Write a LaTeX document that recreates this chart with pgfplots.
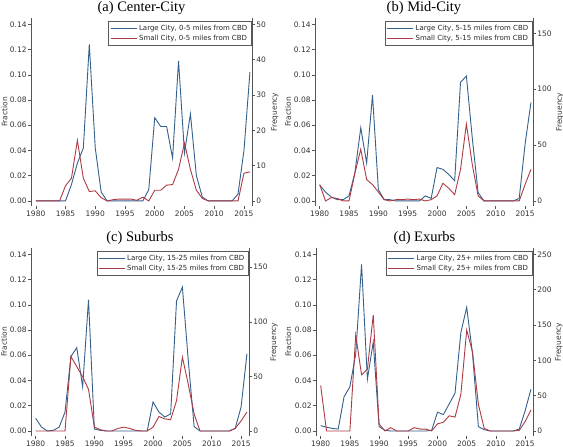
\documentclass[border=0pt]{standalone}
\usepackage{fontspec}
\setmainfont{Liberation Serif}
\newfontfamily\dejavu{DejaVu Sans}
\usepackage{pgfplots}
\usepackage{pgfplotstable}
\pgfplotsset{compat=1.18}
\definecolor{cblue}{RGB}{52,96,140}
\definecolor{cred}{RGB}{172,58,68}
\definecolor{spine}{RGB}{85,85,85}
\newcommand{\tfont}{\dejavu\fontsize{7.5}{9}\selectfont}
\newcommand{\lfont}{\dejavu\fontsize{7}{8.5}\selectfont}

\pgfplotstableread{
year L S
1980 0 0
1981 0 0
1982 0 0
1983 0 0
1984 0 0
1985 0 0.012
1986 0.013 0.018
1987 0.030 0.048
1988 0.042 0.018
1989 0.124 0.0075
1990 0.042 0.008
1991 0.007 0.0026
1992 0 0
1993 0 0.001
1994 0 0.0015
1995 0 0.0015
1996 0 0.0015
1997 0 0.0005
1998 0 0.003
1999 0.009 0
2000 0.066 0.0085
2001 0.059 0.0085
2002 0.059 0.0125
2003 0.034 0.013
2004 0.111 0.025
2005 0.038 0.046
2006 0.069 0.025
2007 0.020 0.0085
2008 0.003 0.002
2009 0 0
2010 0 0
2011 0 0
2012 0 0
2013 0 0
2014 0.0055 0
2015 0.040 0.022
2016 0.102 0.023
}\tabA

\pgfplotstableread{
year L S
1980 0.0125 0.013
1981 0.007 0.000
1982 0.003 0.0027
1983 0.001 0.002
1984 0.001 0.000
1985 0.004 0.000
1986 0.0225 0.022
1987 0.058 0.041
1988 0.030 0.017
1989 0.084 0.013
1990 0.009 0.007
1991 0.001 0.001
1992 0.001 0.000
1993 0.000 0.001
1994 0.000 0.001
1995 0.000 0.0015
1996 0.000 0.001
1997 0.000 0.0015
1998 0.004 0.000
1999 0.002 0.001
2000 0.0265 0.004
2001 0.025 0.014
2002 0.021 0.010
2003 0.016 0.005
2004 0.094 0.025
2005 0.099 0.061
2006 0.050 0.029
2007 0.0066 0.004
2008 0 0
2009 0 0
2010 0 0
2011 0 0
2012 0 0
2013 0 0
2014 0.002 0
2015 0.045 0.013
2016 0.078 0.025
}\tabB

\pgfplotstableread{
year L S
1980 0.010 0
1981 0.003 0
1982 0.000 0
1983 0.0005 0
1984 0.003 0
1985 0.015 0
1986 0.059 0.059
1987 0.066 0.051
1988 0.035 0.043
1989 0.104 0.033
1990 0.0015 0.003
1991 0.0005 0.001
1992 0 0
1993 0 0
1994 0 0.002
1995 0 0.003
1996 0 0.002
1997 0 0.0005
1998 0 0
1999 0 0
2000 0.023 0.003
2001 0.015 0.0115
2002 0.011 0.0095
2003 0.0135 0.009
2004 0.103 0.024
2005 0.114 0.0585
2006 0.056 0.037
2007 0.0035 0.0135
2008 0 0
2009 0 0
2010 0 0
2011 0 0
2012 0 0
2013 0 0
2014 0.002 0.002
2015 0.019 0.008
2016 0.061 0.015
}\tabC

\pgfplotstableread{
year L S
1980 0.0042 0.036
1981 0.003 0
1982 0.002 0
1983 0.0015 0
1984 0.027 0
1985 0.035 0
1986 0.061 0.076
1987 0.132 0.0445
1988 0.041 0.049
1989 0.0705 0.092
1990 0.0034 0.0056
1991 0.0005 0
1992 0 0.0026
1993 0 0
1994 0 0
1995 0 0
1996 0 0.0026
1997 0 0.0015
1998 0 0.0015
1999 0.0005 0
2000 0.0148 0.0056
2001 0.013 0.0069
2002 0.0214 0.012
2003 0.030 0.011
2004 0.078 0.029
2005 0.098 0.080
2006 0.061 0.0625
2007 0.0034 0.021
2008 0.001 0.002
2009 0 0
2010 0 0
2011 0 0
2012 0 0
2013 0 0
2014 0.0015 0.0005
2015 0.016 0.0074
2016 0.033 0.0167
}\tabD

\pgfplotsset{
  base/.style={scale only axis, xmin=1979.2, xmax=2016.35, height=188pt,
     /pgf/number format/assume math mode=true,
     /pgf/number format/1000 sep={},
     tick label style={font=\tfont, text=black!80},
     yticklabel style={inner xsep=1pt},
     xticklabel style={inner ysep=1.5pt},
     tick style={draw=spine, line width=0.5pt},
     major tick length=3.2pt,
     tick align=outside,
     axis line style={draw=spine, line width=0.6pt},
     clip=false,
  },
  leftax/.style={base, ymin=-0.004, ymax=0.145,
     axis x line*=bottom, axis y line*=left,
     x axis line style={draw=none},
     xtick={1980,1985,1990,1995,2000,2005,2010,2015},
     ytick={0,0.02,0.04,0.06,0.08,0.10,0.12,0.14},
     yticklabel style={/pgf/number format/.cd, fixed, fixed zerofill, precision=2},
     ylabel={Fraction},
     every axis y label/.style={at={(axis description cs:#1,0.5)}, rotate=90, anchor=center, font=\tfont, text=black!80},
     every axis title/.style={font=\fontsize{14.5}{17}\selectfont, anchor=base, at={(axis description cs:0.5,1)}, yshift=6pt, inner sep=0pt},
     legend style={at={(axis description cs:1,1)}, anchor=north east, xshift=-1pt, yshift=-3.5pt,
        draw=black!65, fill=white, font=\lfont, text=black!85, inner xsep=1.5pt, inner ysep=1.2pt,
        nodes={inner xsep=2pt, inner ysep=1.9pt}, row sep=0pt},
     legend cell align=left,
     legend image code/.code={\draw[##1] (0pt,0pt) -- (26pt,0pt);},
  },
  rightax/.style={base, axis y line*=right, axis x line=none,
     ylabel={Frequency},
     every axis y label/.style={at={(axis description cs:#1,0.5)}, rotate=90, anchor=center, font=\tfont, text=black!80},
  },
  lb/.style={cblue, line width=0.9pt},
  ls/.style={cred, line width=0.9pt},
}

\begin{document}
\begin{tikzpicture}
\path[use as bounding box] (0pt,0pt) rectangle (563pt,447pt);

% (a)
\begin{axis}[leftax=-0.12, at={(31pt,241pt)}, anchor=south west, width=221pt,
  title={(a) Center-City}]
\addplot[lb] table[x=year,y=L]{\tabA};
\addlegendentry{Large City, 0-5 miles from CBD}
\addplot[ls] table[x=year,y=S]{\tabA};
\addlegendentry{Small City, 0-5 miles from CBD}
\end{axis}
\begin{axis}[rightax=1.104, at={(31pt,241pt)}, anchor=south west, width=221pt,
  ymin=-1.43, ymax=51.8, ytick={0,10,20,30,40,50}]
\end{axis}

% (b)
\begin{axis}[leftax=-0.124, at={(315pt,241pt)}, anchor=south west, width=218pt,
  title={(b) Mid-City}]
\addplot[lb] table[x=year,y=L]{\tabB};
\addlegendentry{Large City, 5-15 miles from CBD}
\addplot[ls] table[x=year,y=S]{\tabB};
\addlegendentry{Small City, 5-15 miles from CBD}
\end{axis}
\begin{axis}[rightax=1.124, at={(315pt,241pt)}, anchor=south west, width=218pt,
  ymin=-4.5, ymax=163.7, ytick={0,50,100,150}]
\end{axis}

% (c)
\begin{axis}[leftax=-0.123, at={(31pt,11pt)}, anchor=south west, width=218pt,
  title={(c) Suburbs}]
\addplot[lb] table[x=year,y=L]{\tabC};
\addlegendentry{Large City, 15-25 miles from CBD}
\addplot[ls] table[x=year,y=S]{\tabC};
\addlegendentry{Small City, 15-25 miles from CBD}
\end{axis}
\begin{axis}[rightax=1.115, at={(31pt,11pt)}, anchor=south west, width=218pt,
  ymin=-4.6, ymax=167.6, ytick={0,50,100,150}]
\end{axis}

% (d)
\begin{axis}[leftax=-0.127, at={(316pt,11pt)}, anchor=south west, width=217pt,
  title={(d) Exurbs}]
\addplot[lb] table[x=year,y=L]{\tabD};
\addlegendentry{Large City, 25+ miles from CBD}
\addplot[ls] table[x=year,y=S]{\tabD};
\addlegendentry{Small City, 25+ miles from CBD}
\end{axis}
\begin{axis}[rightax=1.12, at={(316pt,11pt)}, anchor=south west, width=217pt,
  ymin=-7.1, ymax=259, ytick={0,50,100,150,200,250}]
\end{axis}
\end{tikzpicture}
\end{document}
